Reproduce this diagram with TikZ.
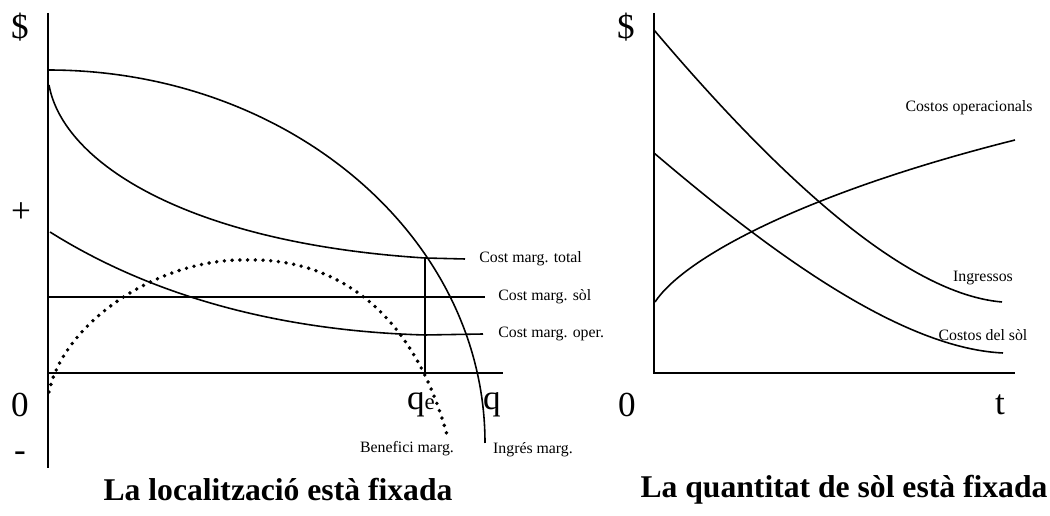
\documentclass[tikz,border=0pt]{standalone}
\usepackage{fontspec}
\setmainfont{Liberation Serif}
\begin{document}
\begin{tikzpicture}[x=.2cm, y=.2cm,
  axis/.style={line width=1.1pt},
  curve/.style={line width=.9pt},
  dots/.style={line width=2.2pt, line cap=round, dash pattern=on 0pt off 4.4pt},
  lbl/.style={font=\fontsize{9}{10}\selectfont, inner sep=0pt},
  big/.style={font=\fontsize{20}{22}\selectfont, inner sep=0pt},
  title/.style={font=\fontsize{18}{20}\selectfont\bfseries, inner sep=0pt}]
\useasboundingbox (-4.8,-14.3) rectangle (100.2,37.3);
\begin{scope}
\draw[axis](0,36)--(0,-9.5);
\draw[axis](0,0)--(45.5,0);
\node[big] (dol1) at (-2.8,34.6){\$};
\node[big] (plus) at (-2.7,16){+};
\node[big] (zero1) at (-2.8,-3.2){0};
\node[big] (minus) at (-2.8,-8.4){-};

\draw[curve](0,30.3) arc[start angle=90, end angle=0, x radius=43.7, y radius=37.3];
\draw[curve](0.1,28.8) .. controls (1.5,21) and (14,13) .. (37.7,11.5)--(41.7,11.4);
\draw[curve](0,7.6)--(43.7,7.6);
\draw[curve](0.2,14.1) .. controls (8,9.2) and (20,4.3) .. (37.7,3.8)--(43.5,3.9);
\draw[curve](37.7,11.5)--(37.7,0);
\draw[dots](0.1,-1.9) .. controls (1.5,5) and (11,11.5) .. (19.9,11.3)
  .. controls (27,11.5) and (36,8) .. (39.9,-6.2);

\node[lbl, anchor=west] (cmtot) at (43.1,11.4){Cost marg. total};
\node[lbl, anchor=west] (cmsol) at (45.0,7.6){Cost marg. sòl};
\node[lbl, anchor=west] (cmop) at (45.0,3.9){Cost marg. oper.};
\node[big] (qe) at (37.3,-3.2){q{\fontsize{13}{14}\selectfont e}};
\node[big] (q) at (44.4,-3.2){q};
\node[lbl] (benef) at (35.9,-7.6){Benefici marg.};
\node[lbl] (ingm) at (48.5,-7.7){Ingrés marg.};
\node[title] (tit1) at (23.0,-11.7){La localització està fixada};
\end{scope}
\begin{scope}[xshift=12.12cm]
\draw[axis](0,36)--(0,0)--(36.1,0);
\node[big] (dol2) at (-2.8,34.6){\$};
\node[big] (zero2) at (-2.7,-3.2){0};
\node[big] (t) at (34.6,-3.2){t};

\draw[curve](0,34.3) .. controls (10,22.5) and (24,8) .. (34.8,7.1);
\draw[curve](0,22.0) .. controls (10,13.5) and (24,2.5) .. (34.9,2.0);
\draw[curve](0.1,7.1) .. controls (3,11.5) and (15,18) .. (36.1,23.3);

\node[lbl] (cop) at (31.5,26.5){Costos operacionals};
\node[lbl] (ingr) at (32.9,9.5){Ingressos};
\node[lbl] (csol) at (32.9,3.8){Costos del sòl};
\node[title] (tit2) at (19.0,-11.7){La quantitat de sòl està fixada};
\end{scope}
\end{tikzpicture}
\end{document}
